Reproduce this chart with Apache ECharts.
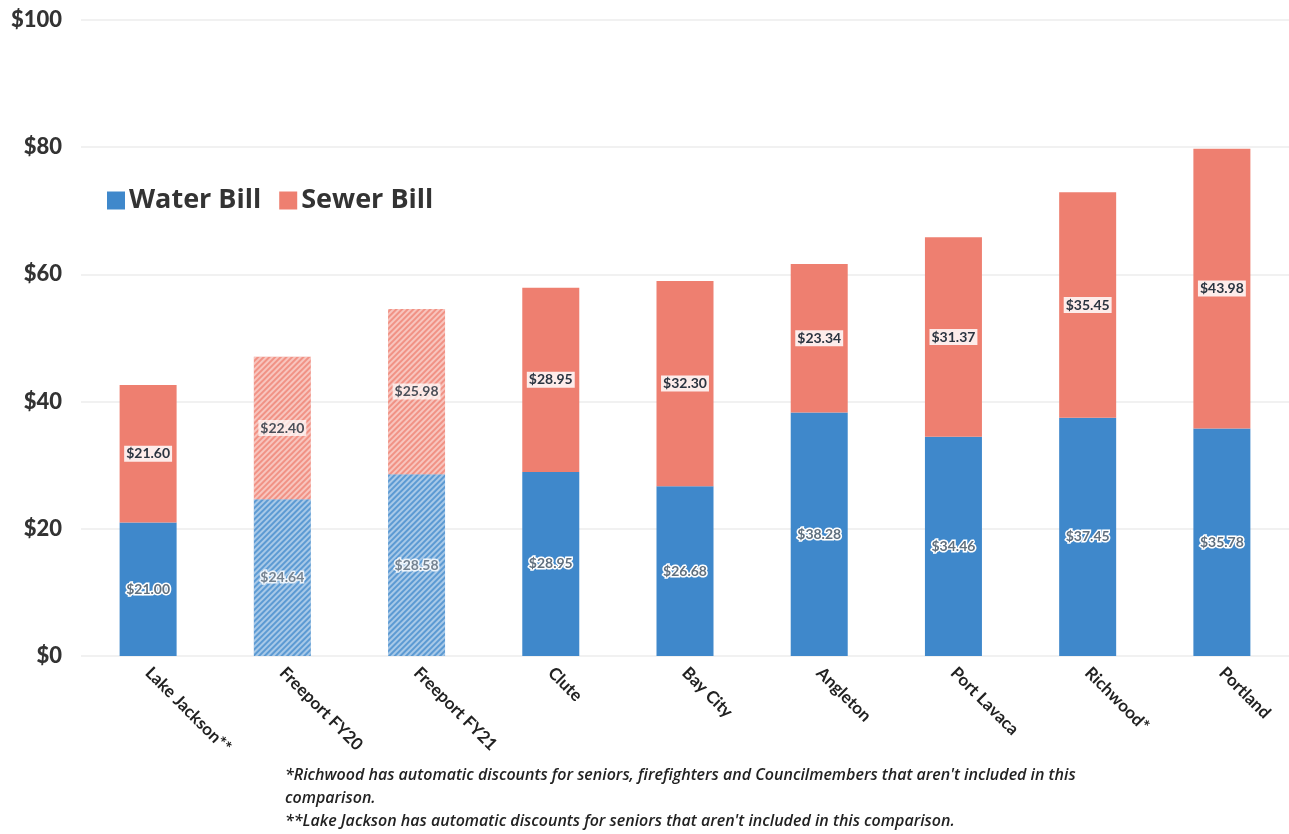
<!DOCTYPE html>
<html>
<head>
<meta charset="utf-8">
<script src="https://cdn.jsdelivr.net/npm/echarts@6/dist/echarts.min.js"></script>
<style>html,body{margin:0;padding:0;background:#fff;}#c{width:1289px;height:834px;}</style>
</head>
<body>
<div id="c"></div>
<script>
const categories = ['Lake Jackson**', 'Freeport FY20', 'Freeport FY21', 'Clute', 'Bay City', 'Angleton', 'Port Lavaca', 'Richwood*', 'Portland'];
const waterBill = [21.00, 24.64, 28.58, 28.95, 26.68, 38.28, 34.46, 37.45, 35.78];
const sewerBill = [21.60, 22.40, 25.98, 28.95, 32.30, 23.34, 31.37, 35.45, 43.98];
const hatched = [false, true, true, false, false, false, false, false, false];
const yTicks = [0, 20, 40, 60, 80, 100];
const footnotes = [
  "*Richwood has automatic discounts for seniors, firefighters and Councilmembers that aren't included in this",
  "comparison.",
  "**Lake Jackson has automatic discounts for seniors that aren't included in this comparison."
];

const BLUE = '#3f88cb', RED = '#ee7f70';
const decal = {
  symbol: 'rect', symbolSize: 1, dashArrayX: [1, 0], dashArrayY: [1.6, 1.8],
  rotation: -Math.PI / 4, color: 'rgba(255,255,255,0.55)'
};
function build(vals) {
  return vals.map((v, i) => hatched[i] ? { value: v, itemStyle: { decal: decal, opacity: 0.85 } } : { value: v });
}
const fmt = p => '$' + p.value.toFixed(2);

const chart = echarts.init(document.getElementById('c'));
chart.setOption({
  animation: false,
  backgroundColor: '#fff',
  grid: { left: 81, top: 20, width: 1211, bottom: 178 },
  legend: {
    left: 102, top: 182, itemWidth: 18, itemHeight: 18, itemGap: 18,
    icon: 'rect',
    textStyle: { fontFamily: 'Open Sans', fontWeight: 'bold', fontSize: 27, color: '#333', padding: [0, 0, 0, -1] },
    data: ['Water Bill', 'Sewer Bill']
  },
  xAxis: {
    type: 'category', data: categories,
    axisLine: { show: false }, axisTick: { show: false },
    axisLabel: { rotate: -45, interval: 0, margin: 14, fontFamily: 'Lato', fontWeight: 'bold', fontSize: 17, color: '#222' }
  },
  yAxis: {
    type: 'value', min: yTicks[0], max: yTicks[yTicks.length - 1], interval: 20,
    axisLabel: { formatter: v => '$' + v, fontFamily: 'Lato', fontWeight: 900, fontSize: 22, color: '#333', margin: 19 },
    splitLine: { lineStyle: { color: '#ececec', width: 1.5 } },
    axisLine: { show: false }, axisTick: { show: false }
  },
  series: [
    {
      name: 'Water Bill', type: 'bar', stack: 'total', barWidth: 57,
      itemStyle: { color: BLUE },
      data: build(waterBill),
      label: {
        show: true, position: 'inside', formatter: fmt,
        fontFamily: 'Lato', fontWeight: 'bold', fontSize: 14, color: '#5f6f7e',
        textBorderColor: '#fff', textBorderWidth: 3
      }
    },
    {
      name: 'Sewer Bill', type: 'bar', stack: 'total', barWidth: 57,
      itemStyle: { color: RED },
      data: build(sewerBill),
      label: {
        show: true, position: 'inside', formatter: fmt,
        fontFamily: 'Lato', fontWeight: 'bold', fontSize: 14, color: '#2b3440',
        backgroundColor: 'rgba(255,255,255,0.85)', padding: [1, 2]
      }
    }
  ],
  graphic: footnotes.map((t, i) => ({
    type: 'text', left: 285, top: 767 + i * 23,
    style: { text: t, fontFamily: 'Open Sans', fontStyle: 'italic', fontWeight: 600, fontSize: 16, fill: '#222' }
  }))
});
</script>
</body>
</html>
